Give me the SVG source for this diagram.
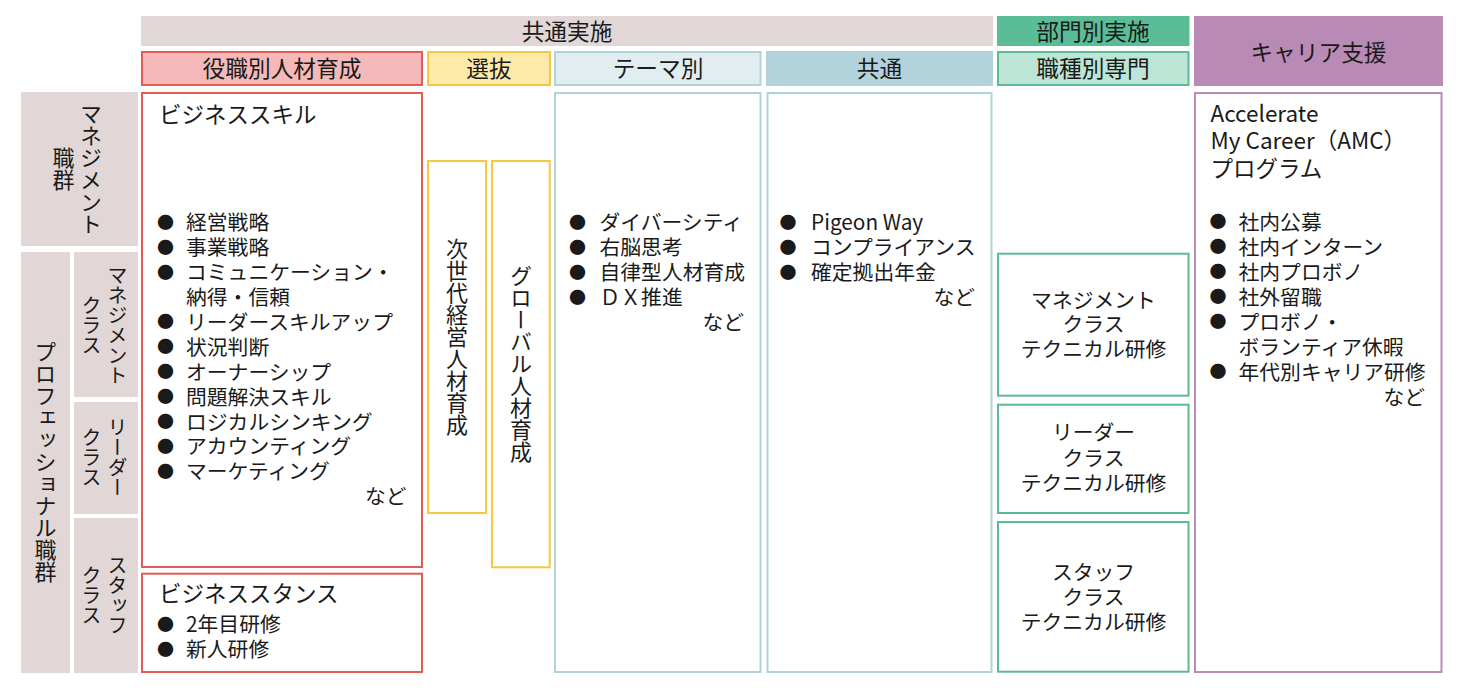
<svg xmlns="http://www.w3.org/2000/svg" width="1459" height="690" viewBox="0 0 1459 690">
<style>
text{font-family:"Noto Sans CJK JP","Noto Sans",sans-serif;fill:#1a1a1a;}
.h{font-size:22.7px;text-anchor:middle;}
.t{font-size:20.8px;}
.k{font-size:22.5px;}
.b{font-size:17px;text-anchor:middle;}
.c{font-size:20.8px;text-anchor:middle;}
.e{font-size:20.8px;text-anchor:end;}
.v{font-size:22px;writing-mode:vertical-rl;text-anchor:middle;}
.vs{font-size:20px;writing-mode:vertical-rl;text-anchor:middle;}
.red{fill:#fff;stroke:#e25b54;stroke-width:2;}
.yel{fill:#fff;stroke:#f7c83d;stroke-width:2;}
.tea{fill:#fff;stroke:#b2d2da;stroke-width:2;}
.grn{fill:#fff;stroke:#5dba97;stroke-width:2;}
.pur{fill:#fff;stroke:#b98bb6;stroke-width:2;}
.gry{fill:#e1d7d7;}
</style>
<rect width="1459" height="690" fill="#fff"/>

<g id="hdr-kyotsu-jisshi">
<rect x="141" y="16" width="852" height="30" fill="#e1d7d7"/>
<text class="h" x="567" y="39.8">共通実施</text>
</g>
<g id="hdr-bumon">
<rect x="997" y="16" width="192.5" height="30" fill="#5bbd97"/>
<text class="h" x="1093" y="39.8">部門別実施</text>
</g>
<g id="hdr-career">
<rect x="1194" y="16" width="249" height="70" fill="#ba8ab6"/>
<text class="h" x="1318.5" y="60.8">キャリア支援</text>
</g>
<g id="hdr-yakushoku">
<rect x="142" y="52" width="280" height="33" fill="#f4b9b8" stroke="#e25b54" stroke-width="2"/>
<text class="h" x="282" y="76.8">役職別人材育成</text>
</g>
<g id="hdr-senbatsu">
<rect x="428" y="52" width="122" height="33" fill="#fde9a9" stroke="#f7c83d" stroke-width="2"/>
<text class="h" x="489" y="76.8">選抜</text>
</g>
<g id="hdr-theme">
<rect x="555" y="52" width="205.5" height="33" fill="#e1edf1" stroke="#b2d2da" stroke-width="2"/>
<text class="h" x="658" y="76.8">テーマ別</text>
</g>
<g id="hdr-kyotsu">
<rect x="767" y="52" width="225" height="33" fill="#b3d3dc" stroke="#b2d2da" stroke-width="2"/>
<text class="h" x="879.5" y="76.8">共通</text>
</g>
<g id="hdr-shokushu">
<rect x="998" y="52" width="190.5" height="33" fill="#bde5d6" stroke="#5dba97" stroke-width="2"/>
<text class="h" x="1093" y="76.8">職種別専門</text>
</g>

<g id="row-management">
<rect class="gry" x="21" y="92" width="117" height="154"/>
<text class="v" x="91" y="169">マネジメント</text>
<text class="v" x="63.5" y="169">職群</text>
</g>
<g id="row-professional">
<rect class="gry" x="21" y="252" width="49" height="421"/>
<text class="v" x="45.5" y="462">プロフェッショナル職群</text>
</g>
<g id="class-management">
<rect class="gry" x="74" y="252" width="64" height="145"/>
<text class="vs" x="117.5" y="325">マネジメント</text>
<text class="vs" x="91.5" y="325">クラス</text>
</g>
<g id="class-leader">
<rect class="gry" x="74" y="402" width="64" height="112"/>
<text class="vs" x="117.5" y="457.5">リーダー</text>
<text class="vs" x="91.5" y="457.5">クラス</text>
</g>
<g id="class-staff">
<rect class="gry" x="74" y="518" width="64" height="155"/>
<text class="vs" x="117.5" y="595">スタッフ</text>
<text class="vs" x="91.5" y="595">クラス</text>
</g>

<g id="business-skill">
<rect class="red" x="142" y="93" width="280" height="474"/>
<text class="k" x="159" y="122.5">ビジネススキル</text>
<text class="b" x="165.5" y="228.8">●</text><text class="t" x="186" y="230.3">経営戦略</text>
<text class="b" x="165.5" y="253.7">●</text><text class="t" x="186" y="255.2">事業戦略</text>
<text class="b" x="165.5" y="278.6">●</text><text class="t" x="186" y="280.1">コミュニケーション・</text>
<text class="t" x="186" y="305">納得・信頼</text>
<text class="b" x="165.5" y="328.4">●</text><text class="t" x="186" y="329.9">リーダースキルアップ</text>
<text class="b" x="165.5" y="353.3">●</text><text class="t" x="186" y="354.8">状況判断</text>
<text class="b" x="165.5" y="378.2">●</text><text class="t" x="186" y="379.7">オーナーシップ</text>
<text class="b" x="165.5" y="403.1">●</text><text class="t" x="186" y="404.6">問題解決スキル</text>
<text class="b" x="165.5" y="428">●</text><text class="t" x="186" y="429.5">ロジカルシンキング</text>
<text class="b" x="165.5" y="452.9">●</text><text class="t" x="186" y="454.4">アカウンティング</text>
<text class="b" x="165.5" y="477.8">●</text><text class="t" x="186" y="479.3">マーケティング</text>
<text class="e" x="406.5" y="504.2">など</text>
</g>
<g id="business-stance">
<rect class="red" x="142" y="573.7" width="280" height="98.3"/>
<text class="k" x="159" y="601.7">ビジネススタンス</text>
<text class="b" x="165.5" y="630.6">●</text><text class="t" x="186" y="632.1">2年目研修</text>
<text class="b" x="165.5" y="655.5">●</text><text class="t" x="186" y="657">新人研修</text>
</g>

<g id="next-gen">
<rect class="yel" x="428" y="161" width="58" height="352"/>
<text class="v" x="457" y="337">次世代経営人材育成</text>
</g>
<g id="global">
<rect class="yel" x="492" y="161" width="57.7" height="406.3"/>
<text class="v" x="521" y="364">グローバル人材育成</text>
</g>

<g id="theme">
<rect class="tea" x="555" y="93" width="205.5" height="579"/>
<text class="b" x="577.5" y="228.8">●</text><text class="t" x="599.5" y="230.3">ダイバーシティ</text>
<text class="b" x="577.5" y="253.7">●</text><text class="t" x="599.5" y="255.2">右脳思考</text>
<text class="b" x="577.5" y="278.6">●</text><text class="t" x="599.5" y="280.1">自律型人材育成</text>
<text class="b" x="577.5" y="303.5">●</text><text class="t" x="599.5" y="305">ＤＸ推進</text>
<text class="e" x="744" y="329.9">など</text>
</g>
<g id="common">
<rect class="tea" x="767.5" y="93" width="224" height="579"/>
<text class="b" x="788" y="228.8">●</text><text class="t" x="811" y="230.3">Pigeon Way</text>
<text class="b" x="788" y="253.7">●</text><text class="t" x="811" y="255.2">コンプライアンス</text>
<text class="b" x="788" y="278.6">●</text><text class="t" x="811" y="280.1">確定拠出年金</text>
<text class="e" x="975" y="305">など</text>
</g>

<g id="tech-management">
<rect class="grn" x="998" y="253.7" width="190.5" height="142"/>
<text class="c" x="1093.5" y="307.8">マネジメント</text>
<text class="c" x="1093.5" y="332.3">クラス</text>
<text class="c" x="1093.5" y="356.8">テクニカル研修</text>
</g>
<g id="tech-leader">
<rect class="grn" x="998" y="404.7" width="190.5" height="108.3"/>
<text class="c" x="1093.5" y="440.1">リーダー</text>
<text class="c" x="1093.5" y="466.1">クラス</text>
<text class="c" x="1093.5" y="491.1">テクニカル研修</text>
</g>
<g id="tech-staff">
<rect class="grn" x="998" y="522" width="190.5" height="149.7"/>
<text class="c" x="1093.5" y="579.5">スタッフ</text>
<text class="c" x="1093.5" y="604.5">クラス</text>
<text class="c" x="1093.5" y="629.5">テクニカル研修</text>
</g>

<g id="career">
<rect class="pur" x="1195" y="93" width="246.5" height="579"/>
<text class="k" x="1210.5" y="121.5">Accelerate</text>
<text class="k" x="1210.5" y="148.5">My Career（AMC）</text>
<text class="k" x="1210.5" y="177">プログラム</text>
<text class="b" x="1218" y="228">●</text><text class="t" x="1238.5" y="229.5">社内公募</text>
<text class="b" x="1218" y="253">●</text><text class="t" x="1238.5" y="254.5">社内インターン</text>
<text class="b" x="1218" y="278">●</text><text class="t" x="1238.5" y="279.5">社内プロボノ</text>
<text class="b" x="1218" y="303">●</text><text class="t" x="1238.5" y="304.5">社外留職</text>
<text class="b" x="1218" y="328">●</text><text class="t" x="1238.5" y="329.5">プロボノ・</text>
<text class="t" x="1238.5" y="354.5">ボランティア休暇</text>
<text class="b" x="1218" y="378">●</text><text class="t" x="1238.5" y="379.5">年代別キャリア研修</text>
<text class="e" x="1425" y="404.5">など</text>
</g>
</svg>
